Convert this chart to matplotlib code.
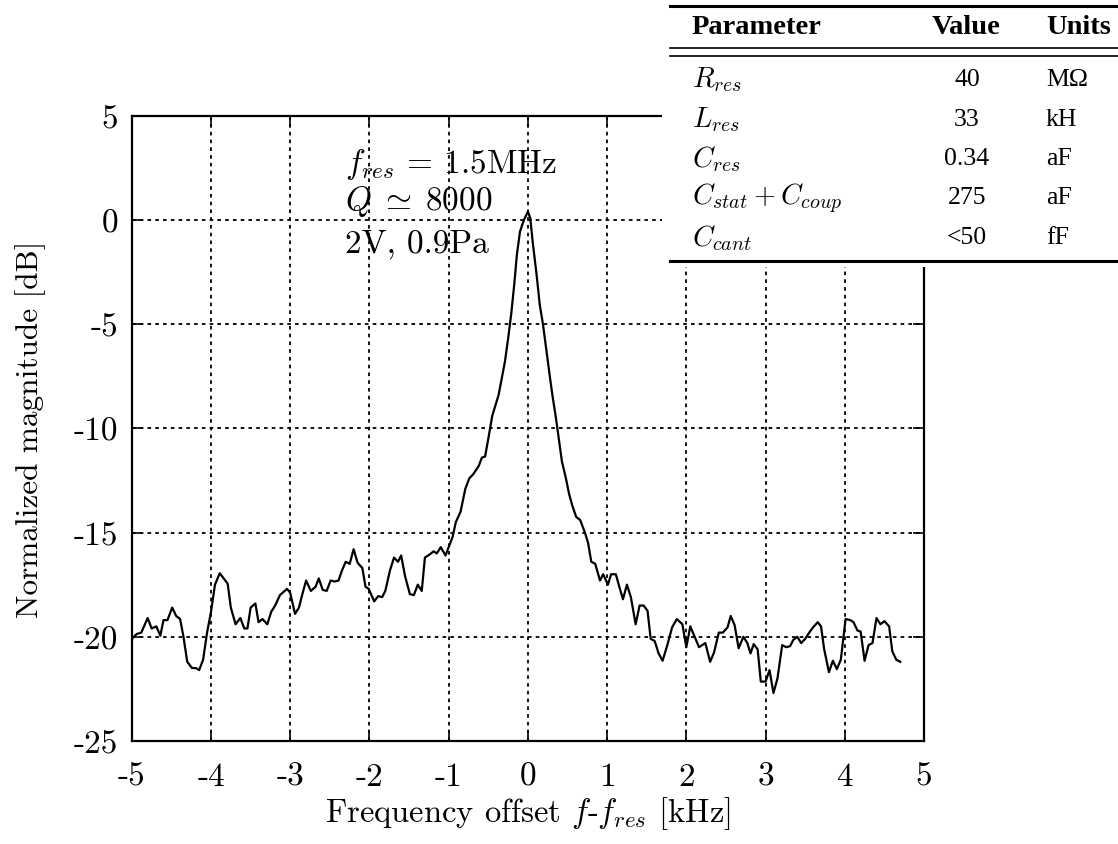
import matplotlib
matplotlib.use("Agg")
import matplotlib.pyplot as plt
from matplotlib.patches import Rectangle
from matplotlib.lines import Line2D

plt.rcParams['font.family'] = 'serif'
plt.rcParams['font.serif'] = ['cmr10']
plt.rcParams['mathtext.fontset'] = 'cm'
plt.rcParams['axes.unicode_minus'] = False

# ---- data (frequency offset in kHz, normalized magnitude in dB) ----
freq = [-5.00, -4.94, -4.88, -4.80, -4.75, -4.69, -4.64, -4.60, -4.55, -4.49,
        -4.44, -4.39, -4.35, -4.30, -4.24, -4.19, -4.15, -4.10, -4.05, -4.00,
        -3.95, -3.89, -3.84, -3.79, -3.75, -3.69, -3.63, -3.58, -3.54, -3.50,
        -3.44, -3.40, -3.35, -3.29, -3.24, -3.19, -3.13, -3.04, -3.00, -2.94,
        -2.89, -2.85, -2.80, -2.74, -2.68, -2.64, -2.59, -2.54, -2.49, -2.44,
        -2.39, -2.35, -2.30, -2.25, -2.20, -2.15, -2.09, -2.05, -2.01, -1.94,
        -1.89, -1.84, -1.80, -1.74, -1.69, -1.64, -1.60, -1.55, -1.49, -1.44,
        -1.39, -1.34, -1.30, -1.24, -1.19, -1.15, -1.10, -1.04, -1.00, -0.95,
        -0.91, -0.85, -0.79, -0.74, -0.69, -0.62, -0.58, -0.54, -0.50, -0.45,
        -0.41, -0.37, -0.33, -0.29, -0.25, -0.21, -0.17, -0.14, -0.10, -0.05,
        0.00, 0.03, 0.06, 0.11, 0.15, 0.19, 0.23, 0.28, 0.31, 0.35,
        0.39, 0.43, 0.48, 0.52, 0.56, 0.61, 0.66, 0.72, 0.76, 0.80,
        0.85, 0.91, 0.95, 1.01, 1.05, 1.11, 1.15, 1.20, 1.25, 1.30,
        1.36, 1.41, 1.46, 1.51, 1.55, 1.60, 1.65, 1.70, 1.76, 1.82,
        1.88, 1.95, 2.00, 2.05, 2.10, 2.16, 2.24, 2.30, 2.35, 2.41,
        2.46, 2.52, 2.56, 2.61, 2.66, 2.72, 2.77, 2.81, 2.85, 2.90,
        2.94, 3.00, 3.05, 3.10, 3.15, 3.21, 3.26, 3.31, 3.35, 3.40,
        3.45, 3.50, 3.56, 3.61, 3.66, 3.70, 3.74, 3.80, 3.85, 3.90,
        3.95, 4.01, 4.07, 4.11, 4.16, 4.20, 4.25, 4.30, 4.35, 4.40,
        4.45, 4.50, 4.56, 4.60, 4.65, 4.70]
mag = [-20.1, -19.87, -19.8, -19.1, -19.6, -19.5, -19.95, -19.2, -19.2, -18.6,
       -19.0, -19.15, -19.95, -21.2, -21.5, -21.5, -21.6, -21.1, -19.8, -18.8,
       -17.5, -16.95, -17.2, -17.45, -18.6, -19.4, -19.1, -19.6, -19.6, -18.6,
       -18.4, -19.3, -19.15, -19.4, -18.8, -18.5, -18.0, -17.7, -17.9, -18.9,
       -18.6, -18.0, -17.3, -17.8, -17.6, -17.2, -17.75, -17.8, -17.3, -17.35,
       -17.3, -16.85, -16.4, -16.5, -15.8, -16.45, -16.7, -17.6, -17.7, -18.3,
       -18.05, -18.1, -17.8, -16.8, -16.2, -16.4, -16.1, -17.1, -17.95, -18.0,
       -17.5, -17.8, -16.2, -16.05, -15.9, -16.0, -15.7, -16.1, -15.7, -15.2,
       -14.5, -14.0, -12.9, -12.4, -12.2, -11.8, -11.4, -11.35, -10.5, -9.4,
       -8.9, -8.4, -7.6, -6.8, -5.7, -4.5, -3.0, -1.7, -0.56, 0.0,
       0.4, 0.08, -1.04, -2.64, -4.08, -5.0, -6.16, -7.6, -8.43, -9.4,
       -10.5, -11.6, -12.4, -13.15, -13.7, -14.25, -14.4, -15.0, -15.5, -16.4,
       -16.5, -17.3, -17.0, -17.5, -17.0, -17.0, -17.55, -18.2, -17.5, -18.1,
       -19.4, -18.5, -18.5, -18.75, -20.1, -20.2, -20.8, -21.15, -20.4, -19.55,
       -19.15, -19.4, -20.5, -19.5, -19.95, -20.5, -20.3, -21.2, -20.75, -19.8,
       -19.8, -19.55, -19.0, -19.45, -20.55, -20.0, -20.3, -20.8, -20.35, -20.6,
       -22.15, -22.15, -21.6, -22.7, -22.0, -20.4, -20.5, -20.45, -20.15, -20.0,
       -20.3, -20.1, -19.75, -19.5, -19.3, -19.5, -20.6, -21.7, -21.15, -21.55,
       -21.1, -19.15, -19.2, -19.3, -19.7, -19.75, -21.15, -20.4, -20.3, -19.1,
       -19.4, -19.25, -19.5, -20.7, -21.1, -21.2]

xticks = [-5, -4, -3, -2, -1, 0, 1, 2, 3, 4, 5]
yticks = [5, 0, -5, -10, -15, -20, -25]

annot_lines = [r'$f_{res}$ = 1.5MHz', r'$Q\;\simeq\;8000$', '2V, 0.9Pa']

tab_header = ['Parameter', 'Value', 'Units']
tab_params = [r'$R_{res}$', r'$L_{res}$', r'$C_{res}$',
              r'$C_{stat}+C_{coup}$', r'$C_{cant}$']
tab_values = ['40', '33', '0.34', '275', '<50']
tab_units = ['MΩ', 'kH', 'aF', 'aF', 'fF']

W, H = 1118, 845
fig = plt.figure(figsize=(W / 100, H / 100), dpi=100)
ax = fig.add_axes([131.8 / W, 1 - 742 / H, (924 - 131.8) / W, (742 - 116.7) / H])

ax.plot(freq, mag, color='black', lw=1.6, zorder=3)
ax.set_xlim(-5, 5)
ax.set_ylim(-25, 5)
ax.set_xticks(xticks)
ax.set_xticklabels([str(t) for t in xticks])
ax.set_yticks(yticks)
ax.set_yticklabels([str(t) for t in yticks])
ax.tick_params(direction='in', length=8, width=1.2, top=True, right=True,
               labelsize=24)
ax.tick_params(axis='x', pad=15)
ax.tick_params(axis='y', pad=10)
ax.grid(True, color='black', lw=1.3, linestyle=(0, (2.0, 2.3)))
for s in ax.spines.values():
    s.set_linewidth(1.6)

ax.set_xlabel(r'Frequency offset $f$-$f_{res}$ [kHz]', fontsize=23.5, labelpad=2)
ax.set_ylabel('Normalized magnitude [dB]', fontsize=22.5, labelpad=20)

ann_y = [2.72, 0.92, -1.12]
for txt, yy in zip(annot_lines, ann_y):
    ax.text(-2.31, yy, txt, fontsize=24, va='center', ha='left', zorder=4)

# ---- parameter table (figure overlay) ----
def fx(px):
    return px / W

def fy(py):
    return 1 - py / H

fig.add_artist(Rectangle((fx(662), fy(268)), fx(1118) - fx(662), fy(0) - fy(268),
                         transform=fig.transFigure, facecolor='white',
                         edgecolor='none', zorder=5))
for py, lw in [(7, 2.2), (49, 1.2), (57, 1.2), (262, 2.2)]:
    fig.add_artist(Line2D([fx(670), fx(1118)], [fy(py), fy(py)],
                          transform=fig.transFigure, color='black', lw=lw, zorder=6))

tfont = {'family': 'Liberation Serif'}
fig.text(fx(692), fy(28), tab_header[0], fontsize=20.5, fontweight='bold',
         va='center', ha='left', zorder=7, **tfont)
fig.text(fx(966), fy(28), tab_header[1], fontsize=20.5, fontweight='bold',
         va='center', ha='center', zorder=7, **tfont)
fig.text(fx(1046), fy(28), tab_header[2], fontsize=20.5, fontweight='bold',
         va='center', ha='left', zorder=7, **tfont)

row_y = [80, 120, 159, 198, 238]
for yy, p, v, u in zip(row_y, tab_params, tab_values, tab_units):
    fig.text(fx(692), fy(yy), p, fontsize=20.5, va='center', ha='left', zorder=7)
    fig.text(fx(967), fy(yy), v, fontsize=18.5, va='center', ha='center', zorder=7, **tfont)
    fig.text(fx(1046), fy(yy), u, fontsize=18.5, va='center', ha='left', zorder=7, **tfont)

fig.savefig('out.png', dpi=100)
